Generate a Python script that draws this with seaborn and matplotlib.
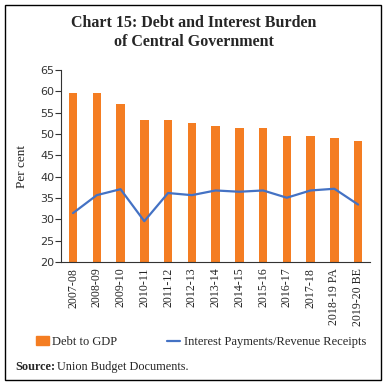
import matplotlib.pyplot as plt
import matplotlib.patches as mpatches
from matplotlib.lines import Line2D
import pandas as pd
import numpy as np
import seaborn as sns

years = ['2007-08', '2008-09', '2009-10', '2010-11', '2011-12', '2012-13', '2013-14',
         '2014-15', '2015-16', '2016-17', '2017-18', '2018-19 PA', '2019-20 BE']
debt_to_gdp = [59.7, 59.7, 57.1, 53.2, 53.4, 52.6, 51.9, 51.4, 51.4, 49.5, 49.5, 49.2, 48.4]
interest_to_revenue = [31.5, 35.7, 37.1, 29.6, 36.2, 35.7, 36.8, 36.5, 36.8, 35.1, 36.8, 37.2, 33.5]

orange = '#F47D22'
blue = '#4472C4'

df = pd.DataFrame({'year': years, 'debt': debt_to_gdp, 'interest': interest_to_revenue})
df['pos'] = np.arange(len(years))

sns.set_style('white')
plt.rcParams['font.family'] = ['Liberation Serif']

fig = plt.figure(figsize=(3.87, 3.85), dpi=100)
ax = fig.add_axes([0.158, 0.319, 0.798, 0.499])

# bars for debt, line for interest burden
sns.barplot(x='pos', y='debt', data=df, color=orange, width=0.36, saturation=1,
            linewidth=0, ax=ax)
sns.lineplot(x='pos', y='interest', data=df, color=blue, linewidth=1.6, ax=ax)

ax.set_xlim(-0.5, len(years) - 0.5)
ax.set_ylim(20, 65)
ax.set_yticks(np.arange(20, 66, 5))
ax.set_yticklabels([str(v) for v in range(20, 66, 5)], family='DejaVu Sans', fontsize=8, color='#333333')
ax.set_xticks(np.arange(len(years)))
ax.set_xticklabels(years, rotation=90, fontsize=8.6)
ax.set_xticks(np.arange(-0.5, len(years), 1), minor=True)
ax.tick_params(axis='x', which='major', length=0, pad=4)
ax.tick_params(axis='x', which='minor', length=4, color='#333333', width=0.8, direction='out')
ax.tick_params(axis='y', length=4, color='#333333', width=0.8, direction='out', left=True, pad=1)
ax.set_xlabel('')
ax.set_ylabel('Per cent', fontsize=9.5, labelpad=9)

for side in ['top', 'right']:
    ax.spines[side].set_visible(False)
for side in ['left', 'bottom']:
    ax.spines[side].set_color('#333333')
    ax.spines[side].set_linewidth(0.8)

fig.text(0.5, 1 - 32.5 / 385, 'Chart 15: Debt and Interest Burden\nof Central Government',
         ha='center', va='center', fontsize=11.5, fontweight='bold', linespacing=1.25)

handles = [mpatches.Patch(color=orange, label='Debt to GDP'),
           Line2D([0], [0], color=blue, linewidth=1.6, label='Interest Payments/Revenue Receipts')]
fig.legend(handles=handles, loc='center', bbox_to_anchor=(201 / 387, 1 - 342 / 385), ncol=2,
           frameon=False, fontsize=9, columnspacing=4.0, handlelength=1.0, handletextpad=0.3)

fig.text(15 / 387, 1 - 367 / 385, 'Source:', fontsize=8.8, fontweight='bold', va='center')
fig.text(57 / 387, 1 - 367 / 385, 'Union Budget Documents.', fontsize=8.8, va='center')

fig.patches.append(mpatches.Rectangle((0.012, 0.012), 0.973, 0.976, transform=fig.transFigure,
                                      fill=False, edgecolor='black', linewidth=1))

fig.savefig('out.png', dpi=100)
